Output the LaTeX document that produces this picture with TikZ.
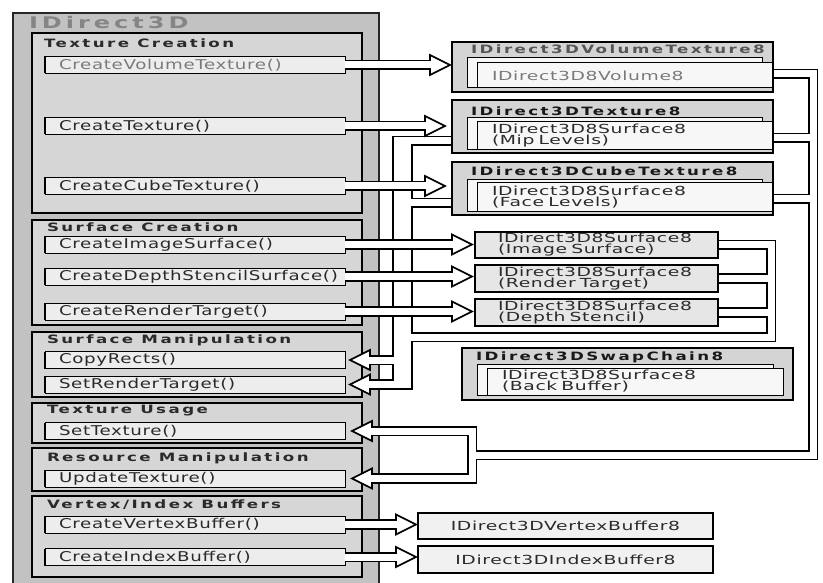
\documentclass[tikz,border=0pt]{standalone}
\usepackage{fontspec}
\setmainfont{DejaVu Sans}
\newfontfamily\itemfont[FakeStretch=1.35,LetterSpace=5]{DejaVu Sans}
\newfontfamily\boxfont[FakeStretch=1.5,LetterSpace=5]{DejaVu Sans}
\newfontfamily\secfont[FakeStretch=1.45,LetterSpace=21]{DejaVu Sans Bold}
\newfontfamily\bigfont[FakeStretch=1.5,LetterSpace=25]{DejaVu Sans Bold}
\usetikzlibrary{calc}
\definecolor{outerfill}{HTML}{C2C2C2}
\definecolor{secfill}{HTML}{D6D6D6}
\definecolor{itemfill}{HTML}{EDEDED}
\definecolor{contfill}{HTML}{D4D4D4}
\definecolor{pagefill}{HTML}{F7F7F7}
\definecolor{surffill}{HTML}{E6E6E6}
\definecolor{buffill}{HTML}{F1F1F1}
\definecolor{txt}{HTML}{2A2A2A}
\definecolor{lighttxt}{HTML}{7A7A7A}
\definecolor{titlegray}{HTML}{555555}
\definecolor{bigtitlegray}{HTML}{858585}
\newcommand\arrowheadR[1]{\filldraw[headst] (#1) -- ++(-20,-10) -- ++(0,20) -- cycle;}
\newcommand\arrowheadL[1]{\filldraw[headst] (#1) -- ++(20,-10) -- ++(0,20) -- cycle;}
\newcommand\pipeRight[2]{%
  \draw[pipeblk] (#1) -- ($(#2)+(-20,0)$);
  \arrowheadR{#2}
  \draw[pipewht] (#1) -- ($(#2)+(-18,0)$);}
\begin{document}
\begin{tikzpicture}[x=1pt,y=-1pt,
  every node/.style={inner sep=0pt, outer sep=0pt},
  outerbox/.style={draw=black!85, line width=1.4pt, fill=outerfill, anchor=north west},
  secbox/.style={draw=black, line width=1.1pt, fill=secfill, anchor=north west, minimum width=330pt},
  sectitle/.style={anchor=west, text=txt, font=\secfont\fontsize{11.5}{13}\selectfont},
  bigtitle/.style={anchor=west, text=bigtitlegray, font=\bigfont\fontsize{16}{18}\selectfont},
  item/.style={draw=black, line width=0.9pt, fill=itemfill, anchor=west, minimum width=300pt,
    minimum height=17pt, text width=272pt, inner xsep=14pt, align=left, text=txt,
    font=\itemfont\fontsize{13.5}{15}\selectfont},
  contbox/.style={draw=black, line width=1.1pt, fill=contfill, anchor=north west},
  rtitle/.style={anchor=west, text=black!90, font=\secfont\fontsize{11.5}{13}\selectfont},
  pageback/.style={draw=black, line width=1pt, fill=pagefill, anchor=north west},
  pagebox/.style={draw=black, line width=1pt, fill=pagefill, anchor=north west, inner xsep=15pt,
    align=left, text=txt, font=\boxfont\fontsize{12.5}{11}\selectfont},
  surfbox/.style={draw=black, line width=1.1pt, fill=surffill, anchor=north west, inner xsep=23pt,
    minimum width=243pt, text width=197pt, align=left, text=txt, font=\boxfont\fontsize{12.5}{11}\selectfont},
  bufbox/.style={draw=black, line width=1.1pt, fill=buffill, anchor=north west, minimum width=295pt,
    align=center, text=txt, font=\boxfont\fontsize{12.5}{14}\selectfont},
  pipeblk/.style={draw=black, line width=10.6pt, line cap=butt, line join=miter},
  pipewht/.style={draw=white, line width=7pt, line cap=butt, line join=miter},
  trunkblk/.style={draw=black, line width=21pt, line cap=butt},
  trunkwht/.style={draw=white, line width=17.4pt, line cap=butt},
  headst/.style={draw=black, fill=white, line width=1.7pt, line join=miter}
]
\useasboundingbox (0,0) rectangle (823,583);

% ---------------- left panel ----------------
\node[outerbox, minimum width=366pt, minimum height=590pt] (d3d) at (13,13) {};
\node[bigtitle] (d3dtitle) at (29,23) {IDirect3D};

\node[secbox, minimum height=180pt] (s1) at (32,33) {};
\node[sectitle] (s1t) at (44,43) {Texture Creation};
\node[secbox, minimum height=105pt] (s2) at (32,220) {};
\node[sectitle] (s2t) at (47,227) {Surface Creation};
\node[secbox, minimum height=65pt] (s3) at (32,332) {};
\node[sectitle] (s3t) at (47,340) {Surface Manipulation};
\node[secbox, minimum height=40pt] (s4) at (32,403) {};
\node[sectitle] (s4t) at (47,411) {Texture Usage};
\node[secbox, minimum height=43pt] (s5) at (32,448) {};
\node[sectitle] (s5t) at (47,458) {Resource Manipulation};
\node[secbox, minimum height=81pt] (s6) at (32,496) {};
\node[sectitle] (s6t) at (47,505) {Vertex/Index Buffers};

\node[item, text=lighttxt] (cvt) at (45,65) {CreateVolumeTexture()};
\node[item] (ctex) at (45,126) {CreateTexture()};
\node[item] (ccube) at (45,186) {CreateCubeTexture()};
\node[item] (cimg) at (45,244.5) {CreateImageSurface()};
\node[item] (cdepth) at (45,276.5) {CreateDepthStencilSurface()};
\node[item] (crt) at (45,311.5) {CreateRenderTarget()};
\node[item] (copy) at (45,360) {CopyRects()};
\node[item] (srt) at (45,384.5) {SetRenderTarget()};
\node[item] (settex) at (45,431) {SetTexture()};
\node[item] (uptex) at (45,478.5) {UpdateTexture()};
\node[item] (cvb) at (45,524.5) {CreateVertexBuffer()};
\node[item] (cib) at (45,557) {CreateIndexBuffer()};
\foreach \n in {cvt,ctex,ccube,cimg,cdepth,crt,copy,srt,settex,uptex,cvb,cib}
  \draw[line width=2.6pt] (\n.north west) -- (\n.south west);

% ---------------- right-side node frames (named, drawn later) ----------------
\path (452,42) node[contbox, draw=none, fill=none, minimum width=321pt, minimum height=50pt] (voltex) {};
\path (452,100) node[contbox, draw=none, fill=none, minimum width=321pt, minimum height=53pt] (tex) {};
\path (452,162) node[contbox, draw=none, fill=none, minimum width=321pt, minimum height=53pt] (cube) {};
\path (475,232) node[surfbox, draw=none, fill=none, minimum height=26pt] (isurf) {};
\path (475,265) node[surfbox, draw=none, fill=none, minimum height=27pt] (rtgt) {};
\path (475,299) node[surfbox, draw=none, fill=none, minimum height=27pt] (dsten) {};
\path (418,513) node[bufbox, draw=none, fill=none, minimum height=26pt] (vb) {};
\path (418,546) node[bufbox, draw=none, fill=none, minimum height=27pt] (ib) {};

% ---------------- network 1: surfaces -> CopyRects / SetRenderTarget ----------------
\coordinate (j0) at (402.5,135.7);
\coordinate (j0w) at (402.5,137.5);
\coordinate (j1) at (402.5,141);
\coordinate (j2) at (402.5,203);
\coordinate (j3) at (402.5,337);
\coordinate (j3r) at (771,337);
\coordinate (j4) at (402.5,360);
\coordinate (j5) at (402.5,384.5);
\coordinate (j6) at (402.5,389.8);
\coordinate (j6w) at (402.5,388);
\coordinate (b1tip) at ($(copy.east)+(5,0)$);
\coordinate (b2tip) at ($(srt.east)+(5,0)$);
\draw[trunkblk] (j0) -- (j6);
\draw[pipeblk] (tex.west |- j1) -- (j1);
\draw[pipeblk] (cube.west |- j2) -- (j2);
\draw[pipeblk] (j4) -- ($(b1tip)+(20,0)$);
\draw[pipeblk] (j5) -- ($(b2tip)+(20,0)$);
\draw[pipeblk] (isurf.east) -| (j3r) -- (j3);
\draw[pipeblk] (rtgt.east) -- (rtgt.east -| j3r);
\draw[pipeblk] (dsten.east) -- (dsten.east -| j3r);
\arrowheadL{b1tip}
\arrowheadL{b2tip}
\draw[trunkwht] (j0w) -- (j6w);
\draw[pipewht] (tex.west |- j1) -- (j1);
\draw[pipewht] (cube.west |- j2) -- (j2);
\draw[pipewht] (j4) -- ($(b1tip)+(18,0)$);
\draw[pipewht] (j5) -- ($(b2tip)+(18,0)$);
\draw[pipewht] (isurf.east) -| (j3r) -- (j3);
\draw[pipewht] (rtgt.east) -- (rtgt.east -| j3r);
\draw[pipewht] (dsten.east) -- (dsten.east -| j3r);

% ---------------- network 2: textures -> SetTexture / UpdateTexture ----------------
\coordinate (k1) at (813,74);
\coordinate (k2) at (813,138);
\coordinate (k3) at (813,199);
\coordinate (k4) at (813,455);
\coordinate (k5) at (472,455);
\coordinate (b3tip) at ($(settex.east)+(7,0)$);
\coordinate (b4tip) at ($(uptex.east)+(7,0)$);
\draw[pipeblk] (voltex.east |- k1) -- (k1) -- (k4) -- (k5);
\draw[pipeblk] (tex.east |- k2) -- (k2);
\draw[pipeblk] (cube.east |- k3) -- (k3);
\draw[pipeblk] ($(b3tip)+(20,0)$) -| (k5) |- ($(b4tip)+(20,0)$);
\arrowheadL{b3tip}
\arrowheadL{b4tip}
\draw[pipewht] (voltex.east |- k1) -- (k1) -- (k4) -- (k5);
\draw[pipewht] (tex.east |- k2) -- (k2);
\draw[pipewht] (cube.east |- k3) -- (k3);
\draw[pipewht] ($(b3tip)+(18,0)$) -| (k5) |- ($(b4tip)+(18,0)$);

% ---------------- creation arrows ----------------
\coordinate (a1) at ($(voltex.west |- cvt.east)+(-2,0)$);
\coordinate (a2) at ($(tex.west |- ctex.east)+(-7,0)$);
\coordinate (a3) at ($(cube.west |- ccube.east)+(-7,0)$);
\coordinate (a4) at ($(isurf.west |- cimg.east)+(-3,0)$);
\coordinate (a5) at ($(rtgt.west |- cdepth.east)+(-3,0)$);
\coordinate (a6) at ($(dsten.west |- crt.east)+(-3,0)$);
\coordinate (a7) at ($(vb.west |- cvb.east)+(-2,0)$);
\coordinate (a8) at ($(ib.west |- cib.east)+(-2,0)$);
\pipeRight{cvt.east}{a1}
\pipeRight{ctex.east}{a2}
\pipeRight{ccube.east}{a3}
\pipeRight{cimg.east}{a4}
\pipeRight{cdepth.east}{a5}
\pipeRight{crt.east}{a6}
\pipeRight{cvb.east}{a7}
\pipeRight{cib.east}{a8}

% ---------------- right boxes (drawn) ----------------
\node[contbox, minimum width=321pt, minimum height=50pt] (voltexbox) at (452,42) {};
\node[rtitle, text=titlegray] (voltitle) at (471,49) {IDirect3DVolumeTexture8};
\node[pageback, minimum width=295pt, minimum height=30pt] (volback) at (467,58) {};
\node[pagebox, minimum width=295pt, minimum height=25pt, text width=265pt, text=lighttxt] (volpage) at (477,63) {IDirect3D8Volume8};

\node[contbox, minimum width=321pt, minimum height=53pt] (texbox) at (452,100) {};
\node[rtitle] (textitle) at (471,111) {IDirect3DTexture8};
\node[pageback, minimum width=295pt, minimum height=32pt] (texback) at (467,118) {};
\node[pagebox, minimum width=295pt, minimum height=28pt, text width=265pt] (texpage) at (477,122) {IDirect3D8Surface8\\(Mip Levels)};

\node[contbox, minimum width=321pt, minimum height=53pt] (cubebox) at (452,162) {};
\node[rtitle] (cubetitle) at (471,171) {IDirect3DCubeTexture8};
\node[pageback, minimum width=295pt, minimum height=32pt] (cubeback) at (467,180) {};
\node[pagebox, minimum width=295pt, minimum height=29pt, text width=265pt] (cubepage) at (477,183) {IDirect3D8Surface8\\(Face Levels)};

\node[surfbox, minimum height=26pt] (isurfbox) at (475,232) {IDirect3D8Surface8\\(Image Surface)};
\node[surfbox, minimum height=27pt] (rtgtbox) at (475,265) {IDirect3D8Surface8\\(Render Target)};
\node[surfbox, minimum height=27pt] (dstenbox) at (475,299) {IDirect3D8Surface8\\(Depth Stencil)};

\node[contbox, minimum width=331pt, minimum height=52pt] (swap) at (462,348) {};
\node[rtitle] (swaptitle) at (476,357) {IDirect3DSwapChain8};
\node[pageback, minimum width=296pt, minimum height=31pt] (swapback) at (477,364) {};
\node[pagebox, minimum width=296pt, minimum height=27pt, text width=266pt] (swappage) at (487,368) {IDirect3D8Surface8\\(Back Buffer)};

\node[bufbox, minimum height=26pt] (vbbox) at (418,513) {IDirect3DVertexBuffer8};
\node[bufbox, minimum height=27pt] (ibbox) at (418,546) {IDirect3DIndexBuffer8};
\end{tikzpicture}
\end{document}
